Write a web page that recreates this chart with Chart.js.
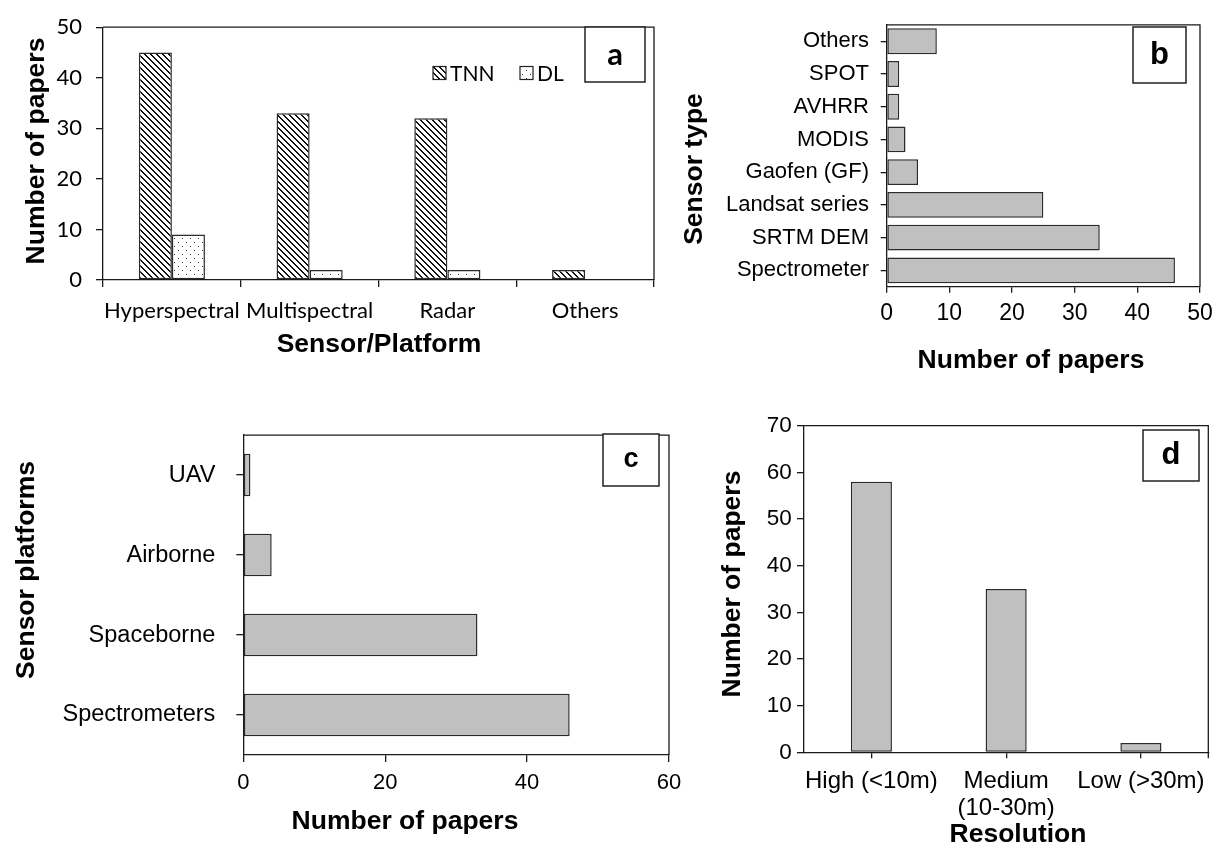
<!DOCTYPE html>
<html>
<head>
<meta charset="utf-8">
<script src="https://cdn.jsdelivr.net/npm/chart.js@4.4.1/dist/chart.umd.min.js"></script>
<style>
  html, body { margin: 0; padding: 0; background: #fff; }
  body { width: 1222px; height: 850px; position: relative; overflow: hidden; }
  .panel { position: absolute; }
</style>
</head>
<body>
<canvas id="panelA" class="panel" width="665" height="380" style="left:0px;top:0px"></canvas>
<canvas id="panelB" class="panel" width="552" height="380" style="left:670px;top:0px"></canvas>
<canvas id="panelC" class="panel" width="690" height="450" style="left:0px;top:400px"></canvas>
<canvas id="panelD" class="panel" width="532" height="450" style="left:690px;top:400px"></canvas>
<script>
// (a) papers per sensor/platform, split by network family
const sensorCategories = ['Hyperspectral', 'Multispectral', 'Radar', 'Others'];
const tnnPapers = [45, 33, 32, 2];
const dlPapers = [9, 2, 2, 0];
const axisA = { min: 0, max: 50, step: 10 };

// (b) papers per sensor type (listed top to bottom)
const sensorTypes = ['Others', 'SPOT', 'AVHRR', 'MODIS', 'Gaofen (GF)', 'Landsat series', 'SRTM DEM', 'Spectrometer'];
const sensorTypePapers = [8, 2, 2, 3, 5, 25, 34, 46];
const axisB = { min: 0, max: 50, step: 10 };

// (c) papers per sensor platform (listed top to bottom)
const platformLabels = ['UAV', 'Airborne', 'Spaceborne', 'Spectrometers'];
const platformPapers = [1, 4, 33, 46];
const axisC = { min: 0, max: 60, step: 20 };

// (d) papers per spatial resolution class
const resolutionLabels = ['High (<10m)', ['Medium', '(10-30m)'], 'Low (>30m)'];
const resolutionPapers = [58, 35, 2];
const axisD = { min: 0, max: 70, step: 10 };

const INK = '#1a1a1a';
const BAR_GREY = '#c0c0c0';
const SANS = "'Liberation Sans', Arial, sans-serif";
const CALI = "Lato, 'Liberation Sans', sans-serif";
const TITLE_FONT = "bold 26.5px " + SANS;

Chart.defaults.font.family = SANS;
Chart.defaults.color = INK;
Chart.defaults.animation = false;

// fill patterns for panel (a)
function makePattern(size, painter) {
  const c = document.createElement('canvas');
  c.width = size; c.height = size;
  const g = c.getContext('2d');
  g.fillStyle = '#ffffff';
  g.fillRect(0, 0, size, size);
  painter(g, size);
  return g.createPattern(c, 'repeat');
}
const diagHatch = makePattern(6, (g, s) => {
  g.fillStyle = '#111';
  for (let i = 0; i < s; i++) { g.fillRect(i, i, 1, 1); g.fillRect((i + 1) % s, i, 1, 1); }
});
const dotFill = makePattern(8, (g) => {
  g.fillStyle = '#333';
  g.fillRect(2, 2, 1, 1);
  g.fillRect(6, 6, 1, 1);
});

// frame, panel letter, axis titles and optional legend, in page coordinates
const panelDecor = {
  id: 'panelDecor',
  afterDraw(chart, args, o) {
    const ctx = chart.ctx, a = chart.chartArea;
    const ox = o.origin[0], oy = o.origin[1];
    ctx.save();
    ctx.strokeStyle = INK;
    ctx.lineWidth = 1.3;
    ctx.beginPath();
    ctx.moveTo(a.left, a.top);
    ctx.lineTo(a.right, a.top);
    ctx.lineTo(a.right, a.bottom + (o.rightTick || 0));
    ctx.stroke();

    // panel letter box
    const [bx, by, bw, bh] = o.letterBox;
    ctx.fillStyle = '#fff';
    ctx.fillRect(bx - ox, by - oy, bw, bh);
    ctx.lineWidth = 1.5;
    ctx.strokeStyle = '#222';
    ctx.strokeRect(bx - ox, by - oy, bw, bh);
    ctx.fillStyle = '#000';
    ctx.font = o.letterFont;
    ctx.textAlign = 'center';
    ctx.textBaseline = 'middle';
    ctx.fillText(o.letter, bx - ox + bw / 2, by - oy + bh / 2);

    // axis titles
    for (const t of o.titles) {
      ctx.save();
      ctx.translate(t.x - ox, t.y - oy);
      if (t.vertical) ctx.rotate(-Math.PI / 2);
      ctx.font = TITLE_FONT;
      ctx.fillStyle = '#000';
      ctx.textAlign = 'center';
      ctx.textBaseline = 'middle';
      ctx.fillText(t.text, 0, 0);
      ctx.restore();
    }

    // legend
    if (o.legend) {
      const L = o.legend;
      chart.data.datasets.forEach((ds, i) => {
        const x = L.x[i] - ox, y = L.y - oy;
        ctx.fillStyle = ds.backgroundColor;
        ctx.fillRect(x, y - L.box / 2, L.box, L.box);
        ctx.lineWidth = 1.2;
        ctx.strokeStyle = '#222';
        ctx.strokeRect(x, y - L.box / 2, L.box, L.box);
        ctx.fillStyle = '#000';
        ctx.font = L.font;
        ctx.textAlign = 'left';
        ctx.textBaseline = 'middle';
        ctx.fillText(ds.label, x + L.box + 4, y + 1);
      });
    }
    ctx.restore();
  }
};

function axisLines(tickLength, offset) {
  const grid = { drawOnChartArea: false, drawTicks: true, tickLength: tickLength, color: INK, lineWidth: 1.3 };
  if (offset !== undefined) grid.offset = offset;
  return { grid: grid, border: { display: true, color: INK, width: 1.3 } };
}
function fixWidth(w) { return (s) => { s.width = w; }; }
function fixHeight(h) { return (s) => { s.height = h; }; }

const barStyle = { borderColor: '#2b2b2b', borderWidth: 1.5, borderSkipped: false };

// ---- (a) ----
new Chart(document.getElementById('panelA'), {
  type: 'bar',
  data: {
    labels: sensorCategories,
    datasets: [
      Object.assign({ label: 'TNN', data: tnnPapers, backgroundColor: diagHatch }, barStyle),
      Object.assign({ label: 'DL', data: dlPapers, backgroundColor: dotFill }, barStyle)
    ]
  },
  options: {
    responsive: false,
    layout: { padding: { left: 0, top: 21.7, right: 11, bottom: 0 } },
    datasets: { bar: { categoryPercentage: 0.48, barPercentage: 1 } },
    plugins: {
      legend: { display: false }, tooltip: { enabled: false },
      panelDecor: {
        origin: [0, 0],
        letter: 'a', letterBox: [585, 27, 60, 55], letterFont: "bold 31px " + CALI,
        titles: [
          { text: 'Number of papers', x: 37, y: 151, vertical: true },
          { text: 'Sensor/Platform', x: 379, y: 345 }
        ],
        legend: { x: [433, 520], y: 73, box: 13, font: "21px " + CALI }
      }
    },
    scales: {
      x: Object.assign({
        offset: true,
        afterFit: fixHeight(100),
        ticks: { autoSkip: false, maxRotation: 0, padding: 11, color: '#000', font: { family: CALI, size: 22, lineHeight: 1.2 } }
      }, axisLines(7)),
      y: Object.assign({
        min: axisA.min, max: axisA.max,
        afterFit: fixWidth(103),
        ticks: { stepSize: axisA.step, padding: 14, color: '#000', font: { family: CALI, size: 22 } }
      }, axisLines(7))
    }
  },
  plugins: [panelDecor]
});

// ---- (b) ----
new Chart(document.getElementById('panelB'), {
  type: 'bar',
  data: {
    labels: sensorTypes,
    datasets: [Object.assign({ label: 'Sensor type', data: sensorTypePapers, backgroundColor: BAR_GREY }, barStyle)]
  },
  options: {
    responsive: false,
    indexAxis: 'y',
    layout: { padding: { left: 0, top: 16, right: 22, bottom: 0 } },
    datasets: { bar: { categoryPercentage: 1, barPercentage: 0.79 } },
    plugins: {
      legend: { display: false }, tooltip: { enabled: false },
      panelDecor: {
        origin: [670, 0],
        letter: 'b', letterBox: [1133, 27, 53, 56], letterFont: "bold 31px " + SANS,
        titles: [
          { text: 'Sensor type', x: 695, y: 169, vertical: true },
          { text: 'Number of papers', x: 1031, y: 361 }
        ]
      }
    },
    scales: {
      x: Object.assign({
        min: axisB.min, max: axisB.max,
        afterFit: fixHeight(380 - 286.7),
        ticks: { stepSize: axisB.step, maxRotation: 0, padding: 7, color: '#000', font: { size: 23, lineHeight: 1.2 } }
      }, axisLines(6)),
      y: Object.assign({
        afterFit: fixWidth(886.7 - 670),
        ticks: { autoSkip: false, padding: 11.7, color: '#000', font: { size: 22 } }
      }, axisLines(6, false))
    }
  },
  plugins: [panelDecor]
});

// ---- (c) ----
new Chart(document.getElementById('panelC'), {
  type: 'bar',
  data: {
    labels: platformLabels,
    datasets: [Object.assign({ label: 'Sensor platforms', data: platformPapers, backgroundColor: BAR_GREY }, barStyle)]
  },
  options: {
    responsive: false,
    indexAxis: 'y',
    layout: { padding: { left: 0, top: 24.3, right: 21, bottom: 0 } },
    datasets: { bar: { categoryPercentage: 1, barPercentage: 0.532 } },
    plugins: {
      legend: { display: false }, tooltip: { enabled: false },
      panelDecor: {
        origin: [0, 400],
        letter: 'c', letterBox: [603, 434, 56, 52], letterFont: "bold 27px " + SANS,
        titles: [
          { text: 'Sensor platforms', x: 27, y: 570, vertical: true },
          { text: 'Number of papers', x: 405, y: 822 }
        ]
      }
    },
    scales: {
      x: Object.assign({
        min: axisC.min, max: axisC.max,
        afterFit: fixHeight(850 - 755),
        ticks: { stepSize: axisC.step, maxRotation: 0, padding: 7.5, color: '#000', font: { size: 22, lineHeight: 1.2 } }
      }, axisLines(7)),
      y: Object.assign({
        afterFit: fixWidth(243.3),
        ticks: { autoSkip: false, padding: 21, color: '#000', font: { size: 23.5 } }
      }, axisLines(7, false))
    }
  },
  plugins: [panelDecor]
});

// ---- (d) ----
new Chart(document.getElementById('panelD'), {
  type: 'bar',
  data: {
    labels: resolutionLabels,
    datasets: [Object.assign({ label: 'Resolution', data: resolutionPapers, backgroundColor: BAR_GREY }, barStyle)]
  },
  options: {
    responsive: false,
    layout: { padding: { left: 0, top: 25.7, right: 13.7, bottom: 0 } },
    datasets: { bar: { categoryPercentage: 1, barPercentage: 0.305 } },
    plugins: {
      legend: { display: false }, tooltip: { enabled: false },
      panelDecor: {
        origin: [690, 400],
        letter: 'd', letterBox: [1143, 430, 56, 51], letterFont: "bold 31px " + SANS,
        rightTick: 6,
        titles: [
          { text: 'Number of papers', x: 733, y: 584, vertical: true },
          { text: 'Resolution', x: 1018, y: 835 }
        ]
      }
    },
    scales: {
      x: Object.assign({
        offset: true,
        afterFit: fixHeight(850 - 752.3),
        ticks: { autoSkip: false, maxRotation: 0, padding: 10, color: '#000', font: { size: 24, lineHeight: 1.11 } }
      }, axisLines(6, false)),
      y: Object.assign({
        min: axisD.min, max: axisD.max,
        afterFit: fixWidth(804 - 690),
        ticks: { stepSize: axisD.step, padding: 5.3, color: '#000', font: { size: 22.5 } }
      }, axisLines(7))
    }
  },
  plugins: [panelDecor]
});
</script>
</body>
</html>
